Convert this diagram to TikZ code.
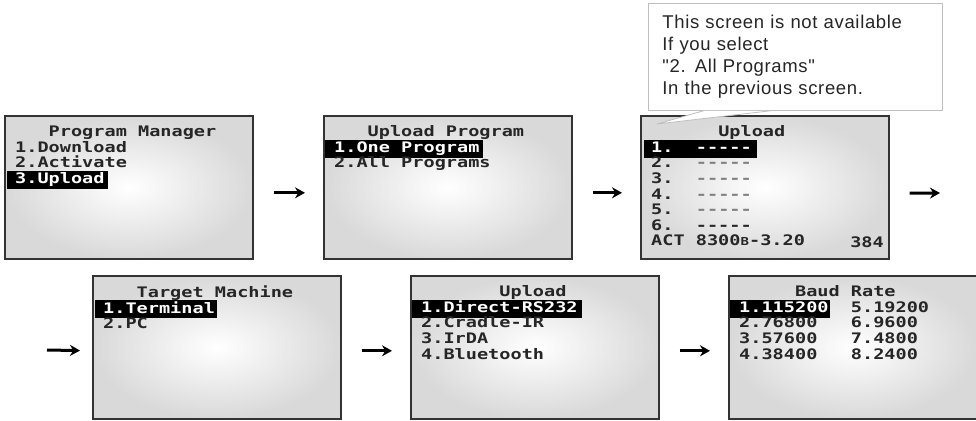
\documentclass[tikz,border=0pt]{standalone}
\usepackage{fontspec}
\usepackage{tikz}
\usetikzlibrary{arrows.meta,calc,positioning}

\newfontfamily\lcdfont[FakeStretch=1.28,Ligatures=ResetAll]{DejaVu Sans Mono}
\newfontfamily\notefont[LetterSpace=3.5]{Liberation Sans}

\tikzset{
  screen/.style={draw=black!80, line width=1.6pt, shading=radial,
    inner color=white, outer color=black!15, minimum width=248pt,
    minimum height=143pt, anchor=north west, inner sep=0pt},
  lcdtext/.style={anchor=north west, align=left, inner sep=0pt, text=black!85,
    font=\lcdfont\bfseries\fontsize{14.5}{15.6}\selectfont,
    execute at begin node={\rule{0pt}{12.5pt}}},
  selbar/.style={fill=black},
  flow/.style={->, line width=3pt, shorten <=20pt, shorten >=18pt},
  notebox/.style={draw=black!25, line width=0.8pt, fill=white}
}

\begin{document}
\begin{tikzpicture}[%
    >={Stealth[length=10pt,width=11pt]},
    x=1pt, y=-1pt
  ]
  \useasboundingbox (0,0) rectangle (976,420);

  % screens
  \node[screen] (s1) at (4,115) {};
  \node[screen] (s2) at (323,115) {};
  \node[screen] (s3) at (640,115) {};
  \node[screen] (s4) at (92,275) {};
  \node[screen] (s5) at (410,275) {};
  \node[screen] (s6) at (728,275) {};

  % selected lines
  \fill[selbar] ($(s1.north west)+(3,55.8)$) rectangle ++(101,18);
  \fill[selbar] ($(s2.north west)+(2,24.6)$) rectangle ++(158,18);
  \fill[selbar] ($(s3.north west)+(4,24.6)$) rectangle ++(113,18);
  \fill[selbar] ($(s4.north west)+(3,24.6)$) rectangle ++(122,18);
  \fill[selbar] ($(s5.north west)+(2,24.6)$) rectangle ++(170,18);
  \fill[selbar] ($(s6.north west)+(2,24.6)$) rectangle ++(100,18);

  \node[lcdtext] (s1-menu) at ($(s1.north west)+(11,10.5)$)
    {\phantom{000}Program Manager\\1.Download\\2.Activate\\\textcolor{white}{3.Upload}};
  \node[lcdtext] (s2-menu) at ($(s2.north west)+(11,10.5)$)
    {\phantom{000}Upload Program\\\textcolor{white}{1.One Program}\\2.All Programs};
  \node[lcdtext] (s3-menu) at ($(s3.north west)+(11,10.5)$)
    {\phantom{000000}Upload\\\textcolor{white}{1.~~-----}\\2.~~\textcolor{gray}{-----}\\
     3.~~\textcolor{gray}{-----}\\4.~~\textcolor{gray}{-----}\\5.~~\textcolor{gray}{-----}\\
     6.~~-----\\ACT~8300{\fontsize{11}{15.6}\selectfont B}-3.20};
  \node[lcdtext, anchor=base east] (s3-mem) at ($(s3.north west)+(244,132.2)$) {384};
  \node[lcdtext] (s4-menu) at ($(s4.north west)+(11,10.5)$)
    {\phantom{000}Target Machine\\\textcolor{white}{1.Terminal}\\2.PC};
  \node[lcdtext] (s5-menu) at ($(s5.north west)+(11,10.5)$)
    {\phantom{0000000}Upload\\\textcolor{white}{1.Direct-RS232}\\2.Cradle-IR\\3.IrDA\\4.Bluetooth};
  \node[lcdtext] (s6-menu) at ($(s6.north west)+(11,10.5)$)
    {\phantom{00000}Baud Rate\\\textcolor{white}{1.115200}~~5.19200\\2.76800~~~6.9600\\
     3.57600~~~7.4800\\4.38400~~~8.2400};

  % arrows
  \coordinate (wrap-out) at (940,193);
  \coordinate (wrap-in) at (47,350);
  \draw[flow] ([yshift=-5.5pt]s1.east) -- ([yshift=-5.5pt]s2.west);
  \draw[flow] ([yshift=-5.5pt]s2.east) -- ([yshift=-5.5pt]s3.west);
  \draw[flow, shorten >=0pt] ([yshift=-6pt]s3.east) -- (wrap-out);
  \draw[flow, shorten <=0pt, shorten >=12pt] (wrap-in) -- ([yshift=-3.5pt]s4.west);
  \draw[flow] ([yshift=-3.5pt]s4.east) -- ([yshift=-3.5pt]s5.west);
  \draw[flow] ([yshift=-3.5pt]s5.east) -- ([yshift=-3.5pt]s6.west);

  % note
  \node[notebox, anchor=north west, minimum width=294pt, minimum height=107pt,
    text width=266pt, align=left, inner xsep=14pt, inner ysep=0pt, text=black!85,
    font=\notefont\fontsize{18.5}{22}\selectfont] (note) at (648,3)
    {This screen is not available\\If you select\\"2. All Programs"\\In the previous screen.};
  \coordinate (note-tip) at (657,124);
  \fill[white] ([xshift=-92pt]note.south) -- (note-tip) -- ([xshift=-25pt]note.south) -- cycle;
  \draw[black!25, line width=0.8pt] ([xshift=-92pt]note.south) -- (note-tip)
    -- ([xshift=-25pt]note.south);
\end{tikzpicture}
\end{document}
